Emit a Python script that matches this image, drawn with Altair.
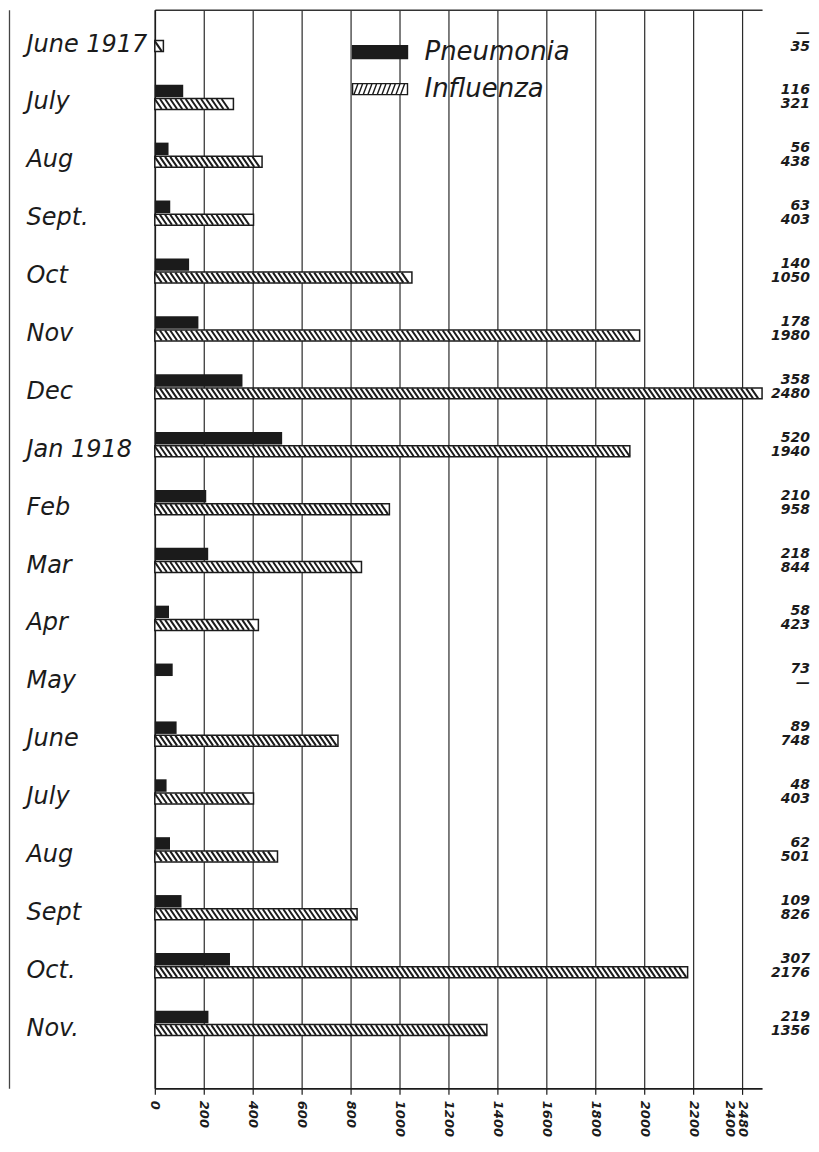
import json
import altair as alt
import pandas as pd

# ---- data ----
months = ["June 1917", "July", "Aug", "Sept.", "Oct", "Nov", "Dec", "Jan 1918",
          "Feb", "Mar", "Apr", "May", "June", "July", "Aug", "Sept", "Oct.", "Nov."]
pneumonia = [None, 116, 56, 63, 140, 178, 358, 520, 210, 218, 58, 73, 89, 48, 62, 109, 307, 219]
influenza = [35, 321, 438, 403, 1050, 1980, 2480, 1940, 958, 844, 423, None, 748, 403, 501, 826, 2176, 1356]
series = ["Pneumonia", "Influenza"]
x_ticks = [0, 200, 400, 600, 800, 1000, 1200, 1400, 1600, 1800, 2000, 2200, 2400]
x_end_label = "2480"
x_max = 2480
missing_text = "—"

# ---- tables ----
keys = [str(i) for i in range(len(months))]
rows = []
for k, p, f in zip(keys, pneumonia, influenza):
    rows.append({"key": k, "series": "Pneumonia", "value": p,
                 "text": missing_text if p is None else str(p)})
    rows.append({"key": k, "series": "Influenza", "value": f,
                 "text": missing_text if f is None else str(f)})
df = pd.DataFrame(rows)
df_p = df[df.series == "Pneumonia"]
df_i = df[df.series == "Influenza"]

# hatch strokes inside each influenza bar (style derived from the values)
hatch_step, hatch_run = 21, 28
hrows = []
for k, f in zip(keys, influenza):
    if f is None:
        continue
    s = 0
    while s + hatch_run <= f:
        hrows.append({"key": k, "x0": s, "x1": s + hatch_run})
        s += hatch_step
hatch_df = pd.DataFrame(hrows)

INK = "#1b1b1b"
FONT = "DejaVu Sans"

x_scale = alt.Scale(domain=[0, x_max], nice=False, zero=True)
y_scale = alt.Scale(paddingInner=0, paddingOuter=0.318, align=0.026)

label_expr = json.dumps(months) + "[toNumber(datum.value)]"


def Y(axis=None):
    return alt.Y("key:N", sort=keys, scale=y_scale, axis=axis)


x_axis = alt.Axis(values=x_ticks, title=None, grid=True, gridColor="#2a2a2a", gridWidth=1.2,
                  format="d",
                  labelExpr=f"datum.value == 2400 ? ['{x_end_label}', '2400'] : datum.label",
                  labelAngle=90, labelFontSize=13, labelFont=FONT, labelFontStyle="italic",
                  labelFontWeight="bold", labelColor=INK, labelOverlap=False, labelLineHeight=13,
                  tickColor=INK, tickSize=6, tickWidth=1.2, domainColor=INK, domainWidth=1.6,
                  labelPadding=6)

y_axis = alt.Axis(title=None, labelExpr=label_expr, labelAlign="left", labelBaseline="middle",
                  labelPadding=129, labelFontSize=24, labelFont=FONT, labelFontStyle="italic",
                  labelColor=INK, ticks=False, domain=True, domainColor=INK, domainWidth=1.6,
                  grid=False, labelOffset=5)

frame_axis = alt.Axis(title=None, orient="left", offset=146, labels=False, ticks=False,
                      domain=True, domainColor="#444", domainWidth=1.3, grid=False)

top_axis = alt.Axis(title=None, orient="top", labels=False, ticks=False, domain=True,
                    domainColor="#333", domainWidth=1.6, grid=False, minExtent=0, maxExtent=0)

pneu_bars = alt.Chart(df_p).mark_bar(height=12.5, yOffset=-6.5, color=INK).encode(
    x=alt.X("value:Q", scale=x_scale, axis=x_axis),
    y=Y(y_axis),
)

infl_bars = alt.Chart(df_i).mark_bar(height=11, yOffset=6.5, fill="white", stroke=INK,
                                     strokeWidth=1.5).encode(
    x=alt.X("value:Q", scale=x_scale, axis=None),
    y=Y(None),
)

hatch = alt.Chart(hatch_df).mark_rule(color=INK, strokeWidth=2, yOffset=1.5,
                                      y2Offset=11.5).encode(
    x=alt.X("x0:Q", scale=x_scale, axis=None),
    x2="x1:Q",
    y=alt.Y("key:N", sort=keys, scale=y_scale, axis=frame_axis, bandPosition=0.5),
    y2=alt.Y2("key", bandPosition=0.5),
)

# legend swatches: wide rectangles (path units span +-2 -> 55 px wide at the size below)
solid_path = "M-2,-0.47H2V0.47H-2Z"
hatch_path = "M-2,-0.4H2V0.4H-2Z" + "".join(
    f"M{x:.2f},0.4L{x + 0.3:.2f},-0.4" for x in [-1.9 + 0.34 * i for i in range(11)])

legend = alt.Legend(title=None, orient="none", legendX=211, legendY=28, symbolSize=756,
                    labelFontSize=26, labelFont=FONT, labelFontStyle="italic", labelColor=INK,
                    symbolStrokeColor=INK, symbolStrokeWidth=1.4, symbolOpacity=1,
                    rowPadding=9, labelOffset=30)

legend_pts = alt.Chart(df).mark_point(filled=True, opacity=0).encode(
    x=alt.X("value:Q", scale=x_scale, axis=top_axis),
    y=Y(None),
    fill=alt.Fill("series:N", scale=alt.Scale(domain=series, range=[INK, "white"]), legend=legend),
    stroke=alt.Stroke("series:N", scale=alt.Scale(domain=series, range=[INK, INK]), legend=legend),
    shape=alt.Shape("series:N", scale=alt.Scale(domain=series, range=[solid_path, hatch_path]),
                    legend=legend),
)

txt_p = alt.Chart(df_p).mark_text(align="right", baseline="middle", dy=-7, fontSize=14,
                                  font=FONT, fontStyle="italic", fontWeight="bold",
                                  color=INK).encode(
    x=alt.value(656), y=Y(None), text="text:N")
txt_i = alt.Chart(df_i).mark_text(align="right", baseline="middle", dy=7, fontSize=14,
                                  font=FONT, fontStyle="italic", fontWeight="bold",
                                  color=INK).encode(
    x=alt.value(656), y=Y(None), text="text:N")

chart = alt.layer(pneu_bars, infl_bars, hatch, legend_pts, txt_p, txt_i).resolve_axis(
    x="independent", y="independent"
).properties(
    width=608, height=1080, background="white",
    autosize=alt.AutoSizeParams(type="none"),
    padding={"left": 147, "top": 1, "right": 49, "bottom": 50},
).configure_view(stroke=None)

chart.save("out.html", embed_options={"renderer": "svg", "actions": False})
